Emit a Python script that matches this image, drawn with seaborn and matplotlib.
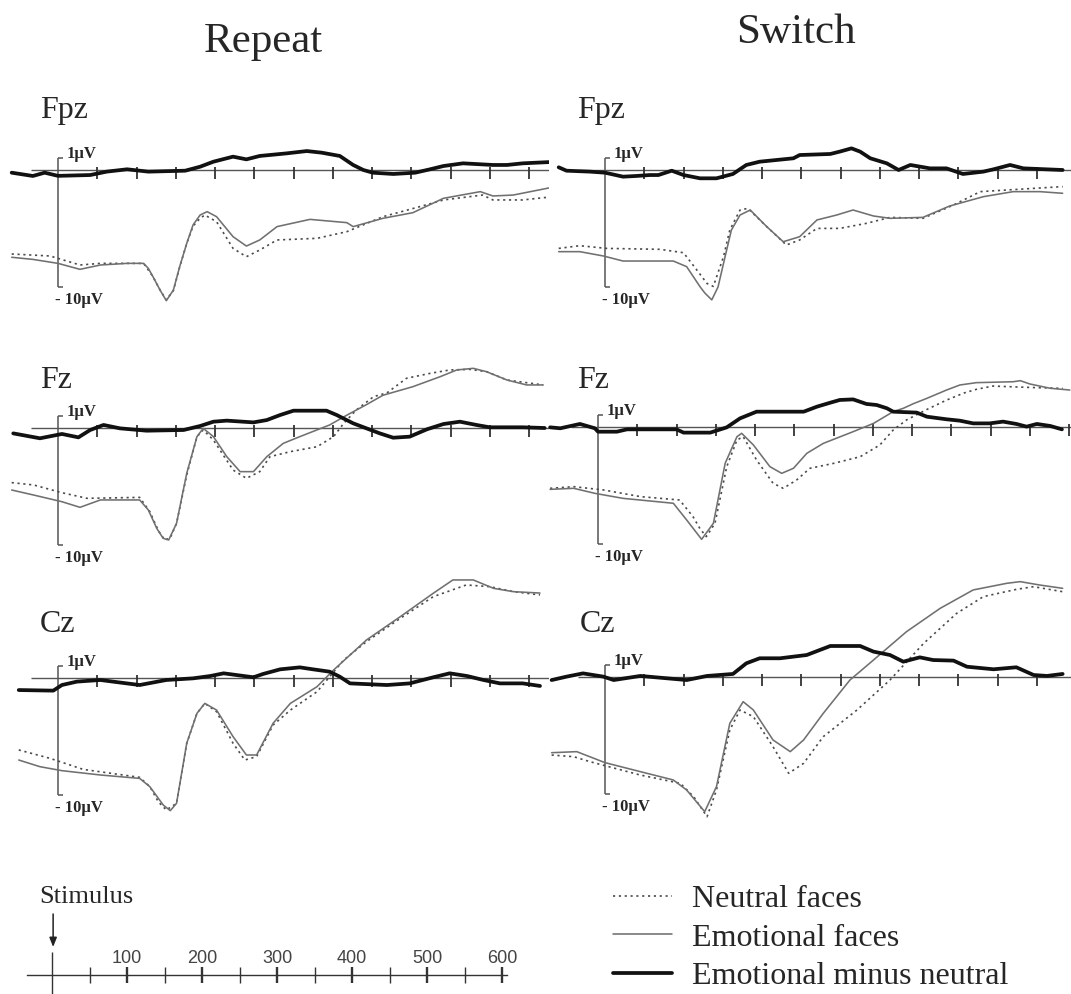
import matplotlib
matplotlib.use("Agg")
import matplotlib.pyplot as plt
import seaborn as sns
from matplotlib.lines import Line2D

# ---------------- data (time in ms, amplitude in µV) ----------------
# Fpz / Repeat
FPZ_REP_T_NEU = [-59, -10, 28, 54, 109, 121, 130, 138, 147, 155, 164, 172, 181, 187, 202, 223, 240, 257, 279, 330, 368, 414, 461, 491, 541, 554, 592, 628]
FPZ_REP_NEU = [-7.18, -7.35, -8.12, -7.98, -7.98, -9.12, -10.26, -11.1, -10.3, -8.3, -6.27, -4.8, -4.13, -3.85, -4.42, -6.7, -7.41, -6.84, -5.98, -5.84, -5.27, -3.99, -3.13, -2.56, -2.14, -2.56, -2.56, -2.3]
FPZ_REP_T_EMO = [-59, -32, 0, 28, 54, 88, 109, 115, 121, 130, 138, 147, 155, 164, 172, 181, 190, 202, 223, 240, 257, 279, 321, 368, 376, 414, 452, 491, 538, 554, 580, 628]
FPZ_REP_EMO = [-7.46, -7.64, -7.98, -8.49, -8.12, -7.98, -7.98, -8.4, -9.12, -10.26, -11.17, -10.26, -8.26, -6.27, -4.7, -3.85, -3.56, -3.99, -5.7, -6.5, -5.98, -4.84, -4.22, -4.5, -4.84, -4.13, -3.65, -2.42, -1.85, -2.22, -2.14, -1.5]
FPZ_REP_T_DIF = [-59, -32, -17, 0, 41, 62, 88, 115, 162, 181, 198, 223, 240, 257, 291, 317, 336, 359, 376, 389, 401, 427, 455, 474, 491, 516, 554, 572, 592, 627]
FPZ_REP_DIF = [-0.23, -0.51, -0.23, -0.5, -0.43, -0.14, 0.06, -0.14, -0.06, 0.28, 0.71, 1.14, 0.91, 1.2, 1.42, 1.62, 1.48, 1.2, 0.43, 0.0, -0.23, -0.34, -0.23, 0.06, 0.34, 0.57, 0.43, 0.43, 0.57, 0.68]

# Fpz / Switch
FPZ_SW_T_NEU = [-59, -32, 2, 70, 100, 117, 130, 138, 151, 159, 172, 182, 206, 231, 248, 270, 299, 333, 363, 405, 444, 478, 512, 546, 583]
FPZ_SW_NEU = [-6.7, -6.47, -6.7, -6.78, -7.07, -8.55, -9.7, -9.95, -7.4, -5.13, -3.42, -3.28, -4.84, -6.41, -5.98, -4.99, -4.99, -4.56, -4.05, -4.13, -2.99, -1.85, -1.71, -1.57, -1.42]
FPZ_SW_T_EMO = [-59, -32, -2, 23, 87, 104, 121, 127, 136, 144, 153, 161, 172, 185, 206, 227, 248, 270, 295, 316, 342, 363, 405, 439, 482, 520, 554, 583]
FPZ_SW_EMO = [-6.98, -6.98, -7.35, -7.78, -7.78, -8.26, -9.97, -10.5, -11.1, -10.0, -7.4, -5.13, -3.85, -3.42, -4.84, -6.13, -5.7, -4.27, -3.85, -3.42, -3.93, -4.13, -4.05, -3.08, -2.28, -1.85, -1.85, -1.99]
FPZ_SW_T_DIF = [-59, -49, -19, 0, 23, 40, 57, 68, 85, 100, 121, 142, 163, 180, 197, 240, 248, 287, 299, 314, 325, 338, 359, 374, 389, 414, 435, 456, 482, 495, 516, 533, 583]
FPZ_SW_DIF = [0.23, -0.06, -0.14, -0.23, -0.57, -0.51, -0.43, -0.43, -0.06, -0.43, -0.71, -0.71, -0.34, 0.43, 0.71, 1.0, 1.28, 1.37, 1.57, 1.85, 1.57, 1.0, 0.57, 0.0, 0.43, 0.14, 0.14, -0.34, -0.14, 0.06, 0.43, 0.14, 0.0]

# Fz / Repeat
FZ_REP_T_NEU = [-59, -31, 5, 37, 104, 117, 128, 136, 143, 151, 164, 177, 185, 198, 223, 240, 257, 270, 296, 330, 351, 364, 380, 402, 419, 444, 474, 499, 525, 546, 572, 618]
FZ_REP_NEU = [-4.67, -4.87, -5.53, -6.01, -5.93, -7.15, -8.8, -9.57, -9.4, -8.15, -4.02, -0.74, -0.17, -1.03, -3.59, -4.3, -3.73, -2.45, -2.02, -1.6, -0.74, 0.4, 1.54, 2.68, 3.0, 4.25, 4.67, 4.96, 5.01, 4.81, 4.1, 3.68]
FZ_REP_T_EMO = [-59, -31, 5, 28, 54, 104, 115, 126, 134, 141, 151, 164, 177, 185, 198, 215, 232, 249, 266, 287, 308, 346, 368, 393, 414, 452, 487, 508, 529, 546, 572, 597, 618]
FZ_REP_EMO = [-5.3, -5.73, -6.3, -6.78, -6.15, -6.15, -7.0, -8.6, -9.43, -9.57, -8.15, -3.87, -0.74, -0.03, -0.74, -2.45, -3.73, -3.73, -2.45, -1.31, -0.74, 0.26, 1.1, 2.0, 2.8, 3.53, 4.39, 4.96, 5.1, 4.81, 4.1, 3.68, 3.68]
FZ_REP_T_DIF = [-57, -23, 5, 26, 41, 58, 79, 113, 160, 181, 198, 215, 249, 266, 283, 300, 342, 355, 376, 393, 410, 427, 448, 470, 491, 512, 533, 550, 592, 620]
FZ_REP_DIF = [-0.46, -0.88, -0.51, -0.8, -0.17, 0.26, -0.03, -0.23, -0.17, 0.17, 0.54, 0.63, 0.48, 0.68, 1.11, 1.48, 1.48, 1.11, 0.4, -0.03, -0.46, -0.83, -0.74, -0.11, 0.34, 0.54, 0.26, 0.06, 0.06, 0.0]

# Fz / Switch
FZ_SW_T_NEU = [-61, -31, 7, 54, 104, 121, 130, 138, 149, 164, 177, 185, 202, 223, 236, 253, 270, 300, 334, 359, 376, 393, 419, 444, 466, 482, 503, 546, 592]
FZ_SW_NEU = [-5.24, -5.1, -5.38, -5.95, -6.24, -7.66, -8.7, -9.37, -8.23, -3.39, -1.11, -0.83, -2.82, -4.81, -5.24, -4.53, -3.53, -3.11, -2.54, -1.54, -0.26, 0.6, 1.5, 2.3, 2.9, 3.22, 3.5, 3.39, 3.3]
FZ_SW_T_EMO = [-61, -31, -4, 32, 75, 96, 113, 132, 147, 162, 177, 183, 198, 219, 234, 249, 266, 287, 325, 351, 376, 389, 402, 419, 444, 461, 482, 529, 538, 550, 576, 601]
FZ_SW_EMO = [-5.33, -5.24, -5.67, -6.1, -6.38, -6.52, -7.95, -9.6, -8.23, -3.1, -0.83, -0.54, -1.54, -3.39, -3.96, -3.53, -2.25, -1.4, -0.4, 0.31, 1.31, 1.6, 2.0, 2.45, 3.16, 3.59, 3.79, 3.87, 3.96, 3.68, 3.31, 3.16]
FZ_SW_T_DIF = [-61, -48, -23, -4, 0, 24, 37, 54, 100, 109, 143, 164, 181, 202, 262, 279, 296, 308, 325, 342, 355, 368, 376, 406, 419, 444, 461, 478, 499, 516, 533, 546, 559, 576, 591]
FZ_SW_DIF = [-0.03, -0.11, 0.26, -0.11, -0.4, -0.4, -0.2, -0.2, -0.2, -0.48, -0.48, -0.03, 0.74, 1.31, 1.31, 1.74, 2.08, 2.31, 2.36, 1.97, 1.88, 1.6, 1.31, 1.23, 0.88, 0.66, 0.54, 0.31, 0.31, 0.46, 0.26, 0.03, 0.26, 0.09, -0.2]

# Cz / Repeat
CZ_REP_T_NEU = [-50, -10, 32, 104, 117, 128, 138, 151, 164, 177, 187, 202, 223, 238, 253, 274, 296, 330, 364, 393, 436, 478, 520, 550, 580, 614]
CZ_REP_NEU = [-6.15, -6.87, -7.81, -8.49, -9.29, -10.6, -11.28, -10.71, -5.58, -3.02, -2.17, -2.88, -5.58, -7.01, -6.72, -4.02, -2.74, -1.17, 1.54, 3.11, 5.1, 6.95, 7.95, 7.81, 7.38, 7.1]
CZ_REP_T_EMO = [-50, -23, 5, 54, 104, 117, 134, 143, 151, 164, 177, 187, 202, 223, 240, 253, 274, 296, 330, 351, 393, 436, 478, 503, 529, 555, 580, 614]
CZ_REP_EMO = [-7.01, -7.58, -7.92, -8.29, -8.58, -9.29, -10.85, -11.34, -10.71, -5.58, -3.02, -2.17, -2.74, -5.01, -6.58, -6.58, -3.87, -2.17, -0.74, 0.68, 3.25, 5.24, 7.24, 8.38, 8.38, 7.66, 7.38, 7.26]
CZ_REP_T_DIF = [-50, -6, 5, 24, 54, 70, 104, 138, 172, 194, 211, 249, 261, 283, 308, 325, 346, 359, 372, 419, 448, 478, 499, 521, 542, 563, 592, 614]
CZ_REP_DIF = [-1.03, -1.08, -0.6, -0.31, -0.17, -0.31, -0.6, -0.17, -0.03, 0.17, 0.4, 0.06, 0.34, 0.74, 0.91, 0.74, 0.54, 0.11, -0.46, -0.6, -0.46, 0.06, 0.4, 0.17, -0.17, -0.46, -0.46, -0.68]

# Cz / Switch
CZ_SW_T_NEU = [-68, -40, -19, 45, 96, 113, 130, 142, 159, 172, 189, 214, 234, 253, 278, 321, 363, 406, 448, 482, 524, 546, 583]
CZ_SW_NEU = [-6.67, -6.81, -7.24, -8.38, -9.09, -10.23, -11.94, -9.66, -4.53, -2.82, -3.39, -5.95, -8.23, -7.38, -5.1, -2.82, -0.26, 2.88, 5.44, 6.87, 7.49, 7.72, 7.29]
CZ_SW_T_EMO = [-68, -36, 0, 45, 87, 104, 127, 142, 159, 176, 189, 214, 236, 253, 278, 312, 342, 384, 427, 469, 512, 529, 554, 583]
CZ_SW_EMO = [-6.47, -6.38, -7.32, -8.09, -8.8, -9.66, -11.51, -9.37, -3.96, -2.11, -2.82, -5.38, -6.38, -5.38, -3.11, -0.26, 1.45, 3.87, 5.87, 7.44, 8.01, 8.15, 7.86, 7.58]
CZ_SW_T_DIF = [-68, -49, -28, -2, 11, 45, 104, 130, 163, 180, 197, 223, 257, 287, 325, 342, 363, 380, 401, 418, 444, 461, 495, 524, 546, 563, 583]
CZ_SW_DIF = [-0.26, 0.03, 0.31, 0.03, -0.26, 0.09, -0.26, 0.09, 0.26, 1.17, 1.6, 1.6, 1.88, 2.65, 2.65, 2.17, 1.88, 1.31, 1.68, 1.45, 1.4, 0.88, 0.66, 0.83, 0.17, 0.09, 0.26]

CONDITIONS = ["Repeat", "Switch"]
ELECTRODES = ["Fpz", "Fz", "Cz"]
PANEL_TICKS = [50, 100, 150, 200, 250, 300, 350, 400, 450, 500, 550, 600]
AXIS_MAJOR = [100, 200, 300, 400, 500, 600]
AXIS_MINOR = [50, 150, 250, 350, 450, 550]
LEGEND_LABELS = ["Neutral faces", "Emotional faces", "Emotional minus neutral"]

# ---------------- style ----------------
sns.set_style("white")
plt.rcParams["font.family"] = ["Liberation Serif", "DejaVu Serif"]

W, H = 1071, 994
fig = plt.figure(figsize=(W / 100, H / 100), dpi=100)
fig.patch.set_facecolor("white")

PXMS = 0.785   # pixels per ms
PXUV = 11.7    # pixels per µV
YLO, YHI = -13.5, 10.5

NEU_STYLE = dict(color="#4a4a4a", lw=1.2, linestyle=(0, (1.3, 2.2)))
EMO_STYLE = dict(color="#707070", lw=1.15, linestyle="-")
DIF_STYLE = dict(color="#111111", lw=2.7, linestyle="-")


def px_axes(left, top, right, bottom):
    return fig.add_axes([left / W, 1 - bottom / H, (right - left) / W, (bottom - top) / H])


panels = [
    # (xs px of stimulus, y0 px of baseline, col, data)
    (58, 170, 0, FPZ_REP_T_NEU, FPZ_REP_NEU, FPZ_REP_T_EMO, FPZ_REP_EMO, FPZ_REP_T_DIF, FPZ_REP_DIF),
    (605, 170, 1, FPZ_SW_T_NEU, FPZ_SW_NEU, FPZ_SW_T_EMO, FPZ_SW_EMO, FPZ_SW_T_DIF, FPZ_SW_DIF),
    (58, 428, 0, FZ_REP_T_NEU, FZ_REP_NEU, FZ_REP_T_EMO, FZ_REP_EMO, FZ_REP_T_DIF, FZ_REP_DIF),
    (598, 427, 1, FZ_SW_T_NEU, FZ_SW_NEU, FZ_SW_T_EMO, FZ_SW_EMO, FZ_SW_T_DIF, FZ_SW_DIF),
    (58, 678, 0, CZ_REP_T_NEU, CZ_REP_NEU, CZ_REP_T_EMO, CZ_REP_EMO, CZ_REP_T_DIF, CZ_REP_DIF),
    (605, 677, 1, CZ_SW_T_NEU, CZ_SW_NEU, CZ_SW_T_EMO, CZ_SW_EMO, CZ_SW_T_DIF, CZ_SW_DIF),
]

for xs, y0, col, tn, vn, te, ve, td, vd in panels:
    tlo = -70 if col == 0 else -72
    thi = 625 if col == 0 else (W - xs) / PXMS
    ax = px_axes(xs + tlo * PXMS, y0 - YHI * PXUV, xs + thi * PXMS, y0 - YLO * PXUV)
    ax.patch.set_alpha(0)
    ax.hlines(0, -35, thi, color="#555555", lw=1.0, zorder=2)
    ax.vlines(PANEL_TICKS, -0.75, 0.25, color="#333333", lw=1.3, zorder=2)
    # amplitude scale bar
    ax.vlines(0, -10, 1, color="#555555", lw=1.1, zorder=2)
    ax.hlines([1, -10], 0, 6, color="#555555", lw=1.1, zorder=2)
    ax.text(11, 1.0, "1µV", fontsize=12, fontweight="bold", va="baseline", ha="left")
    ax.text(-4, -10.45, "- 10µV", fontsize=12, fontweight="bold", va="top", ha="left")
    sns.lineplot(x=tn, y=vn, ax=ax, zorder=3, **NEU_STYLE)
    sns.lineplot(x=te, y=ve, ax=ax, zorder=4, **EMO_STYLE)
    sns.lineplot(x=td, y=vd, ax=ax, zorder=5, **DIF_STYLE)
    ax.set_xlim(tlo, thi)
    ax.set_ylim(YLO, YHI)
    ax.axis("off")

# column titles and electrode labels
fig.text(263 / W, 1 - 52 / H, CONDITIONS[0], ha="center", va="baseline", fontsize=31)
fig.text(796 / W, 1 - 43 / H, CONDITIONS[1], ha="center", va="baseline", fontsize=31)
label_pos = [((40, 118), (577, 118)), ((40, 388), (577, 388)), ((40, 632), (580, 632))]
for name, ((lx, ly), (rx, ry)) in zip(ELECTRODES, label_pos):
    fig.text(lx / W, 1 - ly / H, name, fontsize=23, va="baseline", ha="left")
    fig.text(rx / W, 1 - ry / H, name, fontsize=23, va="baseline", ha="left")

# ---------------- time axis ----------------
XS_B, PXMS_B = 52, 0.75
b_left, b_right = 20, 520
tb_lo, tb_hi = (b_left - XS_B) / PXMS_B, (b_right - XS_B) / PXMS_B
axb = px_axes(b_left, 900, b_right, 994)
axb.patch.set_alpha(0)
axb.set_xlim(tb_lo, tb_hi)
axb.set_ylim(0, 94)
for s in ["left", "right", "bottom"]:
    axb.spines[s].set_visible(False)
axb.spines["top"].set_position(("data", 19))
axb.spines["top"].set_bounds(-33, 607)
axb.spines["top"].set_color("#333333")
axb.spines["top"].set_linewidth(1.0)
axb.xaxis.set_ticks_position("top")
axb.set_xticks(AXIS_MAJOR)
axb.set_xticklabels([str(v) for v in AXIS_MAJOR], family="Liberation Sans")
axb.set_xticks(AXIS_MINOR, minor=True)
axb.tick_params(axis="x", which="major", direction="inout", length=11, width=1.7,
                color="#333333", labelsize=13, labelcolor="#444444", pad=0,
                top=True, bottom=False, labeltop=True, labelbottom=False)
axb.tick_params(axis="x", which="minor", direction="inout", length=11, width=1.0,
                color="#333333", top=True, bottom=False)
axb.set_yticks([])
axb.vlines(0, -2, 42, color="#333333", lw=1.0)
axb.annotate("", xy=(1.5, 47), xytext=(1.5, 80),
             arrowprops=dict(arrowstyle="-|>,head_length=0.55,head_width=0.22",
                             color="#222222", lw=1.1, shrinkA=0, shrinkB=0))
axb.text(-17, 91, "Stimulus", fontsize=19, va="baseline", ha="left")

# ---------------- legend ----------------
handles = [Line2D([], [], **NEU_STYLE), Line2D([], [], **EMO_STYLE), Line2D([], [], **DIF_STYLE)]
fig.legend(handles, LEGEND_LABELS, loc="upper left", bbox_to_anchor=(613 / W, 1 - 885 / H),
           frameon=False, fontsize=23, handlelength=1.85, handletextpad=0.62,
           labelspacing=0.28, borderpad=0, borderaxespad=0)

fig.savefig("out.png", dpi=100, facecolor="white")
